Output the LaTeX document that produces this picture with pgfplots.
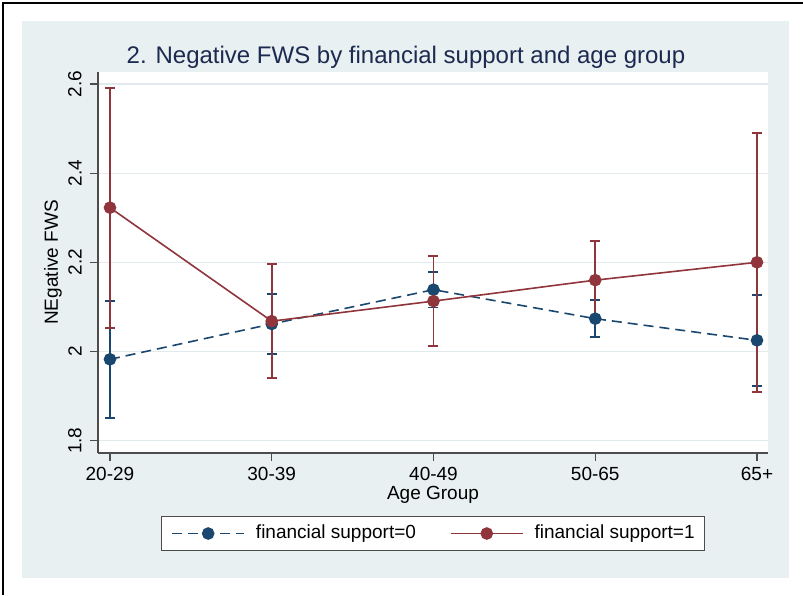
\documentclass[border=0pt]{standalone}
\usepackage{fontspec}
\setmainfont{Liberation Sans}
\usepackage{pgfplots}
\usepackage{pgfplotstable}
\pgfplotsset{compat=1.18}

\definecolor{stnavy}{RGB}{26,71,111}
\definecolor{stmaroon}{RGB}{144,53,59}
\definecolor{bgregion}{RGB}{232,240,242}
\definecolor{gridc}{RGB}{225,234,237}
\definecolor{titlec}{RGB}{28,42,80}

% Predictive margins of negative FWS with 95% CIs (x: age group index)
\pgfplotstableread{
x y e
0 1.9825 0.131
1 2.0617 0.067
2 2.1386 0.040
3 2.0736 0.041
4 2.0250 0.102
}\fszero
\pgfplotstableread{
x y e
0 2.3225 0.269
1 2.0680 0.128
2 2.1130 0.101
3 2.1600 0.088
4 2.2000 0.290
}\fsone

\begin{document}
\begin{tikzpicture}
\useasboundingbox (0,0) rectangle (401.5pt,-297.5pt);
\fill[white] (0,0) rectangle (401.5pt,-297.5pt);
\fill[bgregion] (11pt,-10.5pt) rectangle (394.5pt,-289pt);
\draw[black, line width=0.9pt] (1.5pt,-297.5pt) -- (1.5pt,-1.5pt) -- (401.5pt,-1.5pt);
\node[anchor=base, text=titlec, font=\fontsize{12}{14}\selectfont] at (203pt,-31.5pt)
  {2. Negative FWS by financial support and age group};
\begin{axis}[
  at={(49pt,-226.5pt)}, anchor=south west,
  scale only axis, width=335pt, height=190.5pt,
  xmin=-0.074, xmax=4.068, ymin=1.7724, ymax=2.6267,
  axis x line*=bottom, axis y line*=left,
  axis line style={black!70, line width=0.6pt, -},
  axis background/.style={fill=white},
  xtick={0,1,2,3,4}, xticklabels={20-29,30-39,40-49,50-65,65+},
  ytick={1.8,2,2.2,2.4,2.6}, yticklabels={1.8,2,2.2,2.4,2.6},
  tick align=outside, major tick length=4pt,
  tick style={black!70, line width=0.6pt},
  ymajorgrids, grid style={gridc, line width=0.6pt},
  /pgf/number format/assume math mode=true,
  font=\fontsize{9.5}{11}\selectfont,
  yticklabel style={xshift=-4pt, rotate=90, anchor=south, inner sep=0pt},
  xticklabel style={yshift=-3pt, inner sep=0pt},
  xlabel={Age Group}, ylabel={NEgative FWS},
  xlabel style={at={(axis description cs:0.5,-0.11)}, anchor=center},
  ylabel style={at={(axis description cs:-0.0672,0.5)}, anchor=center},
  legend columns=2,
  legend style={at={(0.5,-0.2113)}, anchor=center, draw=black!70, line width=0.5pt,
    fill=white, font=\fontsize{9.5}{11}\selectfont, inner xsep=5pt, inner ysep=4.25pt,
    nodes={inner sep=0pt, anchor=west},
    /tikz/every odd column/.append style={column sep=5.5pt},
    /tikz/every even column/.append style={column sep=17pt}},
  legend image code/.code={\draw[mark repeat=2, mark phase=2, #1]
    plot coordinates {(0pt,0pt) (18pt,0pt) (36pt,0pt)};},
]
% confidence intervals first, capped
\addplot[forget plot, stnavy, line width=0.9pt, only marks, mark=*, mark size=0pt,
  error bars/.cd, y dir=both, y explicit,
  error bar style={line width=0.9pt, solid},
  error mark options={rotate=90, line width=0.9pt, mark size=2.5pt, solid}]
  table[x=x, y=y, y error=e]{\fszero};
\addplot[forget plot, stmaroon, line width=0.9pt, only marks, mark=*, mark size=0pt,
  error bars/.cd, y dir=both, y explicit,
  error bar style={line width=0.9pt, solid},
  error mark options={rotate=90, line width=0.9pt, mark size=2.5pt, solid}]
  table[x=x, y=y, y error=e]{\fsone};
% point estimates
\addplot[stnavy, line width=0.8pt, dash pattern=on 5pt off 3pt,
  mark=*, mark size=2.75pt, mark options={solid, fill=stnavy, draw=stnavy}]
  table[x=x, y=y]{\fszero};
\addlegendentry{financial support=0}
\addplot[stmaroon, line width=0.8pt,
  mark=*, mark size=2.75pt, mark options={solid, fill=stmaroon, draw=stmaroon}]
  table[x=x, y=y]{\fsone};
\addlegendentry{financial support=1}
\end{axis}
\end{tikzpicture}
\end{document}
